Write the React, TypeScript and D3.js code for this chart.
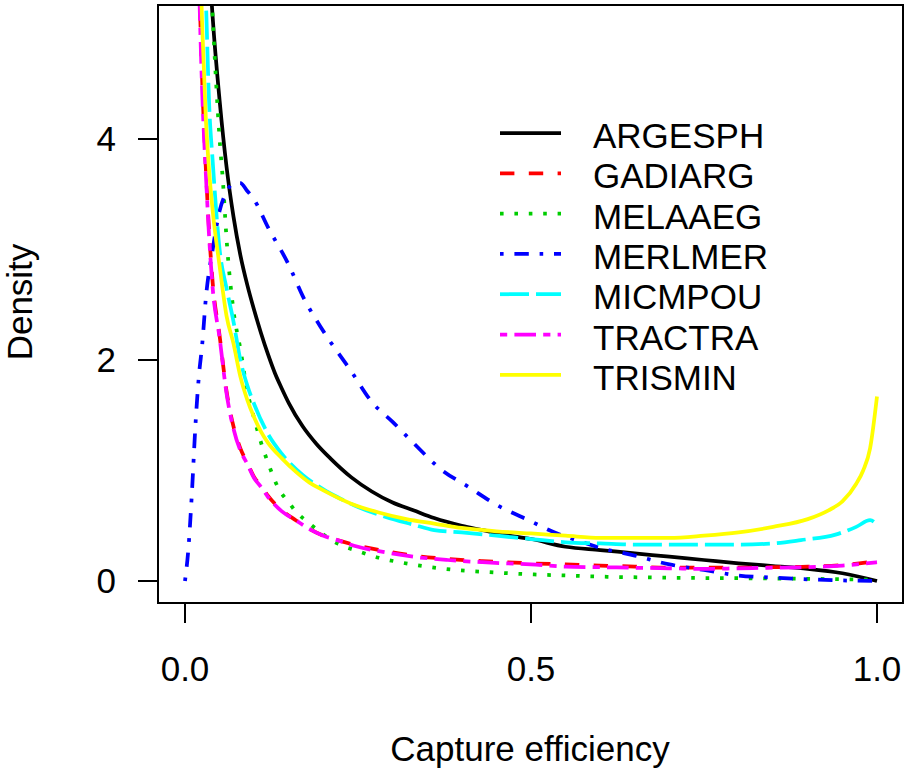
import React from "react";
import * as d3 from "d3";

const seriesNames = ["ARGESPH", "GADIARG", "MELAAEG", "MERLMER", "MICMPOU", "TRACTRA", "TRISMIN"];
const seriesColors = ["#000000", "#FF0000", "#00CD00", "#0000FF", "#00FFFF", "#FF00FF", "#FFFF00"];
const seriesDash = ["none", "14.4 14.4", "3.6 10.8", "3.6 10.8 14.4 10.8", "29 7", "7.2 7.2 21.6 7.2", "none"];

const xTicks = [0, 0.5, 1.0];
const xTickLabels = ["0.0", "0.5", "1.0"];
const yTicks = [0, 2, 4];
const yTickLabels = ["0", "2", "4"];

const argesph: [number, number][] = [
  [0, 12], [0.01, 10], [0.02, 8], [0.03, 6.2], [0.04, 5.1], [0.05, 4.35], [0.06, 3.75], [0.07, 3.3],
  [0.08, 2.95], [0.09, 2.68], [0.1, 2.45], [0.11, 2.24], [0.12, 2.05], [0.13, 1.88], [0.14, 1.74],
  [0.15, 1.61], [0.17, 1.4], [0.19, 1.24], [0.21, 1.11], [0.24, 0.94], [0.27, 0.81], [0.3, 0.71],
  [0.33, 0.64], [0.36, 0.57], [0.4, 0.5], [0.43, 0.46], [0.46, 0.42], [0.5, 0.38], [0.55, 0.31],
  [0.6, 0.28], [0.65, 0.25], [0.7, 0.22], [0.75, 0.19], [0.8, 0.16], [0.85, 0.135], [0.9, 0.11],
  [0.95, 0.07], [1.0, 0.0],
];
const gadiarg: [number, number][] = [
  [0, 14], [0.01, 9], [0.02, 5.6], [0.025, 4.5], [0.03, 3.75], [0.035, 3.15], [0.04, 2.7], [0.05, 2.22],
  [0.06, 1.72], [0.07, 1.4], [0.08, 1.2], [0.09, 1.07], [0.1, 0.94], [0.11, 0.86], [0.12, 0.77],
  [0.14, 0.64], [0.16, 0.55], [0.18, 0.47], [0.2, 0.41], [0.22, 0.37], [0.25, 0.32], [0.29, 0.27],
  [0.33, 0.23], [0.38, 0.2], [0.43, 0.18], [0.5, 0.16], [0.55, 0.15], [0.6, 0.14], [0.65, 0.13],
  [0.7, 0.12], [0.75, 0.12], [0.8, 0.12], [0.85, 0.125], [0.9, 0.13], [0.95, 0.145], [1.0, 0.18],
];
const melaaeg: [number, number][] = [
  [0, 14], [0.02, 9], [0.03, 6.5], [0.04, 5.1], [0.05, 4.0], [0.055, 3.6], [0.06, 3.1], [0.07, 2.45],
  [0.08, 2.1], [0.09, 1.72], [0.1, 1.47], [0.11, 1.25], [0.12, 1.07], [0.135, 0.84], [0.15, 0.71],
  [0.16, 0.63], [0.18, 0.52], [0.2, 0.42], [0.22, 0.34], [0.25, 0.27], [0.28, 0.21], [0.31, 0.17],
  [0.35, 0.13], [0.39, 0.1], [0.44, 0.08], [0.5, 0.06], [0.55, 0.05], [0.6, 0.04], [0.7, 0.03],
  [0.8, 0.025], [0.9, 0.02], [1.0, 0.01],
];
const merlmer: [number, number][] = [
  [0, 0.0], [0.005, 0.3], [0.01, 0.8], [0.015, 1.4], [0.02, 1.85], [0.025, 2.15], [0.03, 2.55],
  [0.04, 3.0], [0.05, 3.35], [0.06, 3.52], [0.07, 3.6], [0.08, 3.6], [0.09, 3.53], [0.1, 3.45],
  [0.12, 3.2], [0.15, 2.86], [0.17, 2.58], [0.2, 2.26], [0.24, 1.9], [0.27, 1.62], [0.3, 1.44],
  [0.33, 1.25], [0.37, 1.01], [0.41, 0.85], [0.45, 0.69], [0.5, 0.54], [0.53, 0.45], [0.57, 0.36],
  [0.6, 0.3], [0.65, 0.23], [0.7, 0.15], [0.75, 0.1], [0.8, 0.05], [0.85, 0.03], [0.9, 0.015],
  [0.95, 0.005], [1.0, 0.0],
];
const micmpou: [number, number][] = [
  [0, 12], [0.01, 9.5], [0.02, 7], [0.03, 5.3], [0.035, 4.3], [0.04, 3.8], [0.05, 3.0], [0.06, 2.65],
  [0.07, 2.35], [0.08, 2.0], [0.09, 1.77], [0.1, 1.6], [0.12, 1.33], [0.14, 1.15], [0.17, 0.96],
  [0.2, 0.83], [0.22, 0.76], [0.25, 0.67], [0.29, 0.58], [0.33, 0.51], [0.36, 0.46], [0.4, 0.44],
  [0.45, 0.41], [0.5, 0.38], [0.55, 0.35], [0.6, 0.34], [0.65, 0.33], [0.7, 0.33], [0.75, 0.33],
  [0.8, 0.33], [0.85, 0.34], [0.89, 0.37], [0.94, 0.42], [0.97, 0.49], [0.99, 0.55], [1.0, 0.51],
];
const tractra: [number, number][] = [
  [0, 14], [0.01, 9], [0.02, 5.5], [0.025, 4.4], [0.03, 3.7], [0.035, 3.1], [0.04, 2.65], [0.05, 2.2],
  [0.06, 1.7], [0.07, 1.38], [0.08, 1.18], [0.09, 1.06], [0.1, 0.93], [0.11, 0.85], [0.12, 0.76],
  [0.14, 0.63], [0.16, 0.55], [0.18, 0.47], [0.2, 0.41], [0.22, 0.37], [0.25, 0.31], [0.29, 0.26],
  [0.33, 0.22], [0.38, 0.19], [0.43, 0.17], [0.5, 0.15], [0.55, 0.13], [0.6, 0.125], [0.65, 0.12],
  [0.7, 0.115], [0.75, 0.11], [0.8, 0.115], [0.85, 0.12], [0.9, 0.125], [0.95, 0.14], [1.0, 0.17],
];
const trismin: [number, number][] = [
  [0, 12], [0.01, 9], [0.02, 6], [0.025, 5.0], [0.03, 4.2], [0.035, 3.7], [0.04, 3.35], [0.05, 2.85],
  [0.06, 2.4], [0.07, 2.15], [0.08, 1.85], [0.09, 1.64], [0.1, 1.48], [0.11, 1.35], [0.12, 1.25],
  [0.14, 1.11], [0.16, 0.99], [0.18, 0.89], [0.2, 0.82], [0.24, 0.7], [0.28, 0.62], [0.32, 0.56],
  [0.36, 0.52], [0.4, 0.48], [0.45, 0.45], [0.5, 0.43], [0.55, 0.41], [0.6, 0.39], [0.65, 0.39],
  [0.7, 0.39], [0.75, 0.41], [0.8, 0.44], [0.85, 0.49], [0.9, 0.56], [0.93, 0.64], [0.95, 0.72],
  [0.97, 0.88], [0.98, 1.0], [0.99, 1.2], [1.0, 1.67],
];

const seriesData = [argesph, gadiarg, melaaeg, merlmer, micmpou, tractra, trismin];

const FONT = "'Liberation Sans', Arial, sans-serif";

export default function App() {
  const W = 904, H = 771;
  const box = { left: 158, right: 903, top: 5, bottom: 603 };
  const x = d3.scaleLinear().domain([0, 1]).range([185, 877]);
  const y = d3.scaleLinear().domain([0, 4]).range([581, 139]);
  const line = d3
    .line<[number, number]>()
    .x((d) => x(d[0]))
    .y((d) => y(d[1]))
    .curve(d3.curveMonotoneX);
  const lw = 3.75;
  const fs = 35;
  const legX0 = 500, legX1 = 561, legTextX = 593, legY0 = 133, legDy = 40.3;

  return (
    <svg width={W} height={H} style={{ position: "absolute", left: 0, top: 0, background: "#fff" }}>
      <defs>
        <clipPath id="plotclip">
          <rect x={box.left} y={box.top} width={box.right - box.left} height={box.bottom - box.top} />
        </clipPath>
      </defs>
      <rect x={0} y={0} width={W} height={H} fill="#fff" />
      <g clipPath="url(#plotclip)">
        {seriesData.map((d, i) => (
          <path
            key={seriesNames[i]}
            d={line(d) || ""}
            fill="none"
            stroke={seriesColors[i]}
            strokeWidth={lw}
            strokeDasharray={seriesDash[i]}
            strokeLinejoin="round"
          />
        ))}
      </g>
      <rect
        x={box.left}
        y={box.top}
        width={box.right - box.left}
        height={box.bottom - box.top}
        fill="none"
        stroke="#000"
        strokeWidth={2}
      />
      {/* x axis */}
      <line x1={x(0)} x2={x(1)} y1={box.bottom} y2={box.bottom} stroke="#000" strokeWidth={2} />
      {xTicks.map((t, i) => (
        <g key={"xt" + i}>
          <line x1={x(t)} x2={x(t)} y1={box.bottom} y2={box.bottom + 20} stroke="#000" strokeWidth={2} />
          <text x={x(t)} y={681} textAnchor="middle" fontFamily={FONT} fontSize={fs} fill="#000">
            {xTickLabels[i]}
          </text>
        </g>
      ))}
      {/* y axis */}
      <line x1={box.left} x2={box.left} y1={y(0)} y2={y(4)} stroke="#000" strokeWidth={2} />
      {yTicks.map((t, i) => (
        <g key={"yt" + i}>
          <line x1={box.left - 20} x2={box.left} y1={y(t)} y2={y(t)} stroke="#000" strokeWidth={2} />
          <text x={116} y={y(t) + 12} textAnchor="end" fontFamily={FONT} fontSize={fs} fill="#000">
            {yTickLabels[i]}
          </text>
        </g>
      ))}
      <text x={530} y={761} textAnchor="middle" fontFamily={FONT} fontSize={fs} fill="#000">
        Capture efficiency
      </text>
      <text
        transform={`translate(32, 302) rotate(-90)`}
        textAnchor="middle"
        fontFamily={FONT}
        fontSize={fs}
        fill="#000"
      >
        Density
      </text>
      {/* legend */}
      {seriesNames.map((n, i) => {
        const ly = legY0 + i * legDy;
        return (
          <g key={"lg" + n}>
            <line
              x1={legX0}
              x2={legX1}
              y1={ly}
              y2={ly}
              stroke={seriesColors[i]}
              strokeWidth={lw}
              strokeDasharray={seriesDash[i]}
            />
            <text x={legTextX} y={ly + 15} fontFamily={FONT} fontSize={fs} fill="#000">
              {n}
            </text>
          </g>
        );
      })}
    </svg>
  );
}
